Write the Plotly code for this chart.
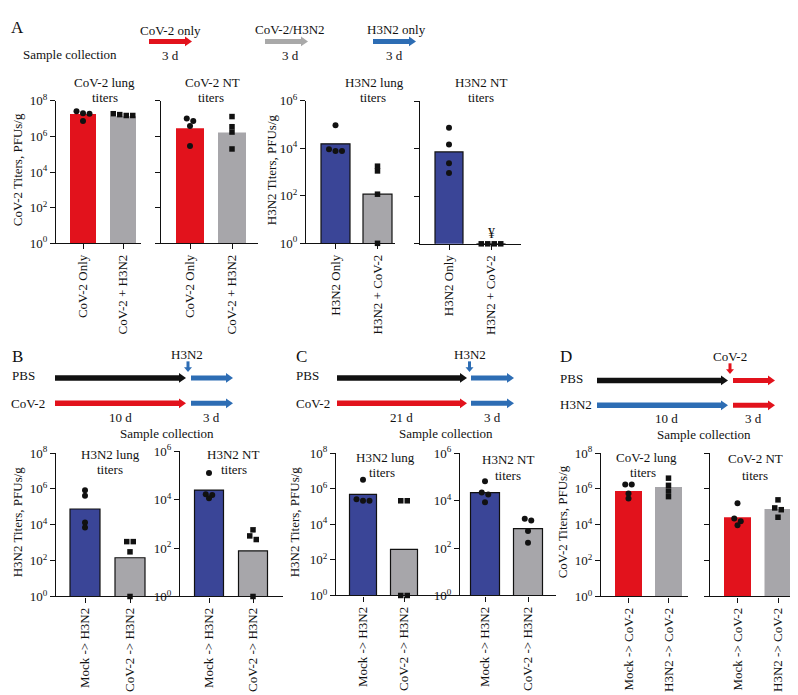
import plotly.graph_objects as go

W, H = 798, 695
FONT = "'Liberation Serif', 'Times New Roman', Times, serif"
RED = "#e2121c"
GRAY = "#a7a6aa"
BLUE = "#3a4597"
ARROW_BLUE = "#2d6db4"
ARROW_GRAY = "#a9a9a9"
BLACK = "#111111"

# ---------------- data: log10 titers (PFUs/g) ----------------
a_cov_groups = ["CoV-2 Only", "CoV-2 + H3N2"]
a_h3_groups = ["H3N2 Only", "H3N2 + CoV-2"]
bc_groups = ["Mock -> H3N2", "CoV-2 -> H3N2"]
d_groups = ["Mock -> CoV-2", "H3N2 -> CoV-2"]

a_cov_lung_bars = [7.27, 7.14]
a_cov_lung_pts1 = [7.42, 7.30, 7.28, 6.87]
a_cov_lung_pts2 = [7.18, 7.28, 7.18, 7.23]

a_cov_nt_bars = [6.47, 6.23]
a_cov_nt_pts1 = [7.01, 6.87, 6.59, 5.46]
a_cov_nt_pts2 = [7.12, 6.55, 6.25, 5.30]

a_h3_lung_bars = [4.19, 2.07]
a_h3_lung_pts1 = [4.97, 3.96, 3.89, 3.89]
a_h3_lung_pts2 = [3.25, 3.05, 2.07, 0.0]

a_h3_nt_bars = [3.87, 0.0]
a_h3_nt_pts1 = [4.89, 4.18, 3.39, 2.98]
a_h3_nt_pts2 = [0.0, 0.0, 0.0, 0.0]

b_lung_bars = [4.88, 2.16]
b_lung_pts1 = [5.92, 5.62, 4.12, 3.85]
b_lung_pts2 = [3.06, 3.06, 2.49, 0.0]

b_nt_bars = [4.39, 1.88]
b_nt_pts1 = [5.10, 4.22, 4.19, 4.05]
b_nt_pts2 = [2.75, 2.50, 2.35, 0.0]

c_lung_bars = [5.68, 2.59]
c_lung_pts1 = [6.50, 5.41, 5.32, 5.32]
c_lung_pts2 = [5.32, 5.32, 0.0, 0.0]

c_nt_bars = [4.33, 2.82]
c_nt_pts1 = [4.81, 4.34, 4.25, 3.93]
c_nt_pts2 = [3.23, 3.16, 2.72, 2.22]

d_lung_bars = [5.89, 6.11]
d_lung_pts1 = [6.24, 6.24, 5.75, 5.46]
d_lung_pts2 = [6.60, 6.20, 5.88, 5.57]

d_nt_bars = [4.42, 4.88]
d_nt_pts1 = [5.20, 4.35, 4.20, 3.98]
d_nt_pts2 = [5.39, 4.94, 4.84, 4.42]

# ---------------- layout of the subplots (pixels) ----------------
panels = [
    dict(g=a_cov_groups, bars=a_cov_lung_bars, p1=a_cov_lung_pts1, p2=a_cov_lung_pts2,
         x0=48, x1=133, ytop=86, ybot=232, dec=8, c=(75, 115), bw=26,
         col=(RED, GRAY), outline=(False, False), sym=("circle", "square"), labels=True),
    dict(g=a_cov_groups, bars=a_cov_nt_bars, p1=a_cov_nt_pts1, p2=a_cov_nt_pts2,
         x0=153, x1=250, ytop=86, ybot=232, dec=8, c=(182, 224), bw=28,
         col=(RED, GRAY), outline=(False, False), sym=("circle", "square"), labels=False),
    dict(g=a_h3_groups, bars=a_h3_lung_bars, p1=a_h3_lung_pts1, p2=a_h3_lung_pts2,
         x0=298, x1=387, ytop=86, ybot=232, dec=6, c=(327.5, 369.5), bw=29,
         col=(BLUE, GRAY), outline=(True, True), sym=("circle", "square"), labels=True),
    dict(g=a_h3_groups, bars=a_h3_nt_bars, p1=a_h3_nt_pts1, p2=a_h3_nt_pts2,
         x0=412, x1=513, ytop=86.5, ybot=232.5, dec=6, c=(441, 483), bw=28,
         col=(BLUE, GRAY), outline=(True, True), sym=("circle", "square"), labels=False),
    dict(g=bc_groups, bars=b_lung_bars, p1=b_lung_pts1, p2=b_lung_pts2,
         x0=48, x1=172, ytop=447, ybot=594, dec=8, c=(77, 122), bw=30,
         col=(BLUE, GRAY), outline=(True, True), sym=("circle", "square"), labels=True),
    dict(g=bc_groups, bars=b_nt_bars, p1=b_nt_pts1, p2=b_nt_pts2,
         x0=172, x1=275, ytop=445, ybot=594, dec=6, c=(201, 245), bw=29,
         col=(BLUE, GRAY), outline=(True, True), sym=("circle", "square"), labels=True),
    dict(g=bc_groups, bars=c_lung_bars, p1=c_lung_pts1, p2=c_lung_pts2,
         x0=328, x1=452, ytop=447, ybot=593, dec=8, c=(355, 396), bw=27,
         col=(BLUE, GRAY), outline=(True, True), sym=("circle", "square"), labels=True),
    dict(g=bc_groups, bars=c_nt_bars, p1=c_nt_pts1, p2=c_nt_pts2,
         x0=452, x1=548, ytop=447, ybot=593, dec=6, c=(477, 520), bw=29,
         col=(BLUE, GRAY), outline=(True, True), sym=("circle", "circle"), labels=True),
    dict(g=d_groups, bars=d_lung_bars, p1=d_lung_pts1, p2=d_lung_pts2,
         x0=593, x1=680, ytop=447, ybot=594, dec=8, c=(620.5, 660.5), bw=27,
         col=(RED, GRAY), outline=(False, False), sym=("circle", "square"), labels=True),
    dict(g=d_groups, bars=d_nt_bars, p1=d_nt_pts1, p2=d_nt_pts2,
         x0=702, x1=798, ytop=447, ybot=594, dec=8, c=(729.5, 770), bw=27,
         col=(RED, GRAY), outline=(False, False), sym=("circle", "square"), labels=False),
]


def X(p):
    return p / W


def Y(p):
    return 1 - p / H


def swarm(vals, px_dec, d=6.5, thr=4.0):
    order = sorted(range(len(vals)), key=lambda i: -vals[i])
    rows = []
    for i in order:
        ypx = vals[i] * px_dec
        if rows and abs(rows[-1][0] - ypx) < thr:
            rows[-1][1].append(i)
        else:
            rows.append([ypx, [i]])
    off = [0.0] * len(vals)
    for _, mem in rows:
        n = len(mem)
        for k, i in enumerate(mem):
            off[i] = (k - (n - 1) / 2) * d
    return off


fig = go.Figure()
layout = dict(width=W, height=H, margin=dict(l=0, r=0, t=0, b=0),
              paper_bgcolor="white", plot_bgcolor="rgba(0,0,0,0)",
              showlegend=False, font=dict(family=FONT, size=13, color=BLACK))

for i, p in enumerate(panels, 1):
    xa = "x" if i == 1 else f"x{i}"
    ya = "y" if i == 1 else f"y{i}"
    s = p["c"][1] - p["c"][0]
    xmin = -(p["c"][0] - p["x0"]) / s
    xmax = xmin + (p["x1"] - p["x0"]) / s
    px_dec = (p["ybot"] - p["ytop"]) / p["dec"]

    for k in range(2):
        fig.add_trace(go.Bar(
            x=[k], y=[10 ** p["bars"][k]], width=p["bw"] / s,
            marker=dict(color=p["col"][k],
                        line=dict(color=BLACK, width=1.2 if p["outline"][k] else 0)),
            xaxis=xa, yaxis=ya, hoverinfo="skip"))
    for k, pts in enumerate([p["p1"], p["p2"]]):
        off = swarm(pts, px_dec)
        fig.add_trace(go.Scatter(
            x=[k + o / s for o in off], y=[10 ** v for v in pts], mode="markers",
            marker=dict(color=BLACK, size=6 if p["sym"][k] == "circle" else 5.5,
                        symbol=p["sym"][k], line=dict(width=0)),
            cliponaxis=False, xaxis=xa, yaxis=ya, hoverinfo="skip"))

    axis_line = dict(showline=True, linecolor=BLACK, linewidth=1.3, ticks="outside",
                     ticklen=5, tickwidth=1.3, tickcolor=BLACK, showgrid=False,
                     zeroline=False, fixedrange=True)
    layout["xaxis" if i == 1 else f"xaxis{i}"] = dict(
        axis_line, domain=[X(p["x0"]), X(p["x1"])], range=[xmin, xmax],
        tickvals=[0, 1], ticktext=p["g"], tickangle=-90,
        tickfont=dict(family=FONT, size=13, color=BLACK), anchor=ya)
    layout["yaxis" if i == 1 else f"yaxis{i}"] = dict(
        axis_line, domain=[Y(p["ybot"]), Y(p["ytop"])], type="log",
        range=[0, p["dec"]],
        tickvals=[10 ** e for e in range(0, p["dec"] + 1, 2)],
        ticktext=[f"10<sup>{e}</sup>" for e in range(0, p["dec"] + 1, 2)],
        showticklabels=p["labels"],
        tickfont=dict(family=FONT, size=13, color=BLACK), anchor=xa)

annotations = []
shapes = []


def text(s, x, y, size=13, angle=0):
    annotations.append(dict(text=s, x=X(x), y=Y(y), xref="paper", yref="paper",
                            xanchor="center", yanchor="middle", showarrow=False,
                            textangle=angle, font=dict(family=FONT, size=size, color=BLACK)))


def harrow(x0, x1, y, color, w=5, hl=7, hh=5):
    shapes.append(dict(type="line", xref="paper", yref="paper", x0=X(x0), x1=X(x1 - hl + 1),
                       y0=Y(y), y1=Y(y), line=dict(color=color, width=w)))
    shapes.append(dict(type="path", xref="paper", yref="paper",
                       path=f"M {X(x1 - hl)},{Y(y - hh)} L {X(x1)},{Y(y)} L {X(x1 - hl)},{Y(y + hh)} Z",
                       fillcolor=color, line=dict(width=0)))


def varrow(x, y0, y1, color, w=3, hl=5, hh=4):
    shapes.append(dict(type="line", xref="paper", yref="paper", x0=X(x), x1=X(x),
                       y0=Y(y0), y1=Y(y1 - hl + 1), line=dict(color=color, width=w)))
    shapes.append(dict(type="path", xref="paper", yref="paper",
                       path=f"M {X(x - hh)},{Y(y1 - hl)} L {X(x)},{Y(y1)} L {X(x + hh)},{Y(y1 - hl)} Z",
                       fillcolor=color, line=dict(width=0)))


# Panel A header
text("A", 9, 11, 17)
text("Sample collection", 62, 38)
text("CoV-2 only", 162, 14)
harrow(141, 184, 25, RED)
text("3 d", 162, 39)
text("CoV-2/H3N2", 282, 13)
harrow(257, 300, 25, ARROW_GRAY)
text("3 d", 282, 39)
text("H3N2 only", 388, 13)
harrow(365, 408, 25, ARROW_BLUE)
text("3 d", 386, 39)

# Panel B header
text("B", 9, 348, 17)
text("H3N2", 179, 346)
varrow(180, 353, 364, ARROW_BLUE)
text("PBS", 15, 368)
harrow(47, 178, 370, BLACK, w=5.5)
harrow(183, 225, 370, ARROW_BLUE)
text("CoV-2", 20, 396)
harrow(47, 178, 396, RED, w=5.5)
harrow(183, 225, 396, ARROW_BLUE)
text("10 d", 112, 411)
text("3 d", 203, 411)
text("Sample collection", 159, 427)

# Panel C header
text("C", 293, 348, 17)
text("H3N2", 462, 346)
varrow(461.5, 353, 364, ARROW_BLUE)
text("PBS", 299, 368)
harrow(329, 459, 370, BLACK, w=5.5)
harrow(463, 506, 370, ARROW_BLUE)
text("CoV-2", 305, 396)
harrow(329, 459, 396, RED, w=5.5)
harrow(463, 506, 396, ARROW_BLUE)
text("21 d", 393, 411)
text("3 d", 484, 411)
text("Sample collection", 438, 427)

# Panel D header
text("D", 558, 348, 17)
text("CoV-2", 722, 348)
varrow(722, 355, 366, RED)
text("PBS", 563, 371)
harrow(589, 720, 372.5, BLACK, w=5.5)
harrow(725, 767, 372.5, RED)
text("H3N2", 568, 397)
harrow(589, 720, 398, ARROW_BLUE, w=5.5)
harrow(725, 767, 398, RED)
text("10 d", 658, 412)
text("3 d", 745, 412)
text("Sample collection", 696, 427.5)

# subplot titles
for s_, x_, y_ in [("CoV-2 lung", 96, 67), ("titers", 97, 83),
                   ("CoV-2 NT", 204, 67), ("titers", 203, 83),
                   ("H3N2 lung", 366, 67), ("titers", 365, 83),
                   ("H3N2 NT", 473, 67), ("titers", 473, 83),
                   ("H3N2 lung", 102, 448), ("titers", 102, 463.5),
                   ("H3N2 NT", 225, 448), ("titers", 225.5, 463.5),
                   ("H3N2 lung", 377, 452), ("titers", 374, 467),
                   ("H3N2 NT", 500, 454), ("titers", 500, 470),
                   ("CoV-2 lung", 638, 452), ("titers", 635, 467),
                   ("CoV-2 NT", 747, 453), ("titers", 747, 470)]:
    text(s_, x_, y_)

# y-axis titles
text("CoV-2 Titers, PFUs/g", 9, 157, angle=-90)
text("H3N2 Titers, PFUs/g", 263, 157, angle=-90)
text("H3N2 Titers, PFUs/g", 9, 518, angle=-90)
text("H3N2 Titers, PFUs/g", 286, 518, angle=-90)
text("CoV-2 Titers, PFUs/g", 554, 518, angle=-90)

# significance mark
text("¥", 483, 222, 14)

layout["annotations"] = annotations
layout["shapes"] = shapes
fig.update_layout(**layout)
fig.write_html("out.html")
